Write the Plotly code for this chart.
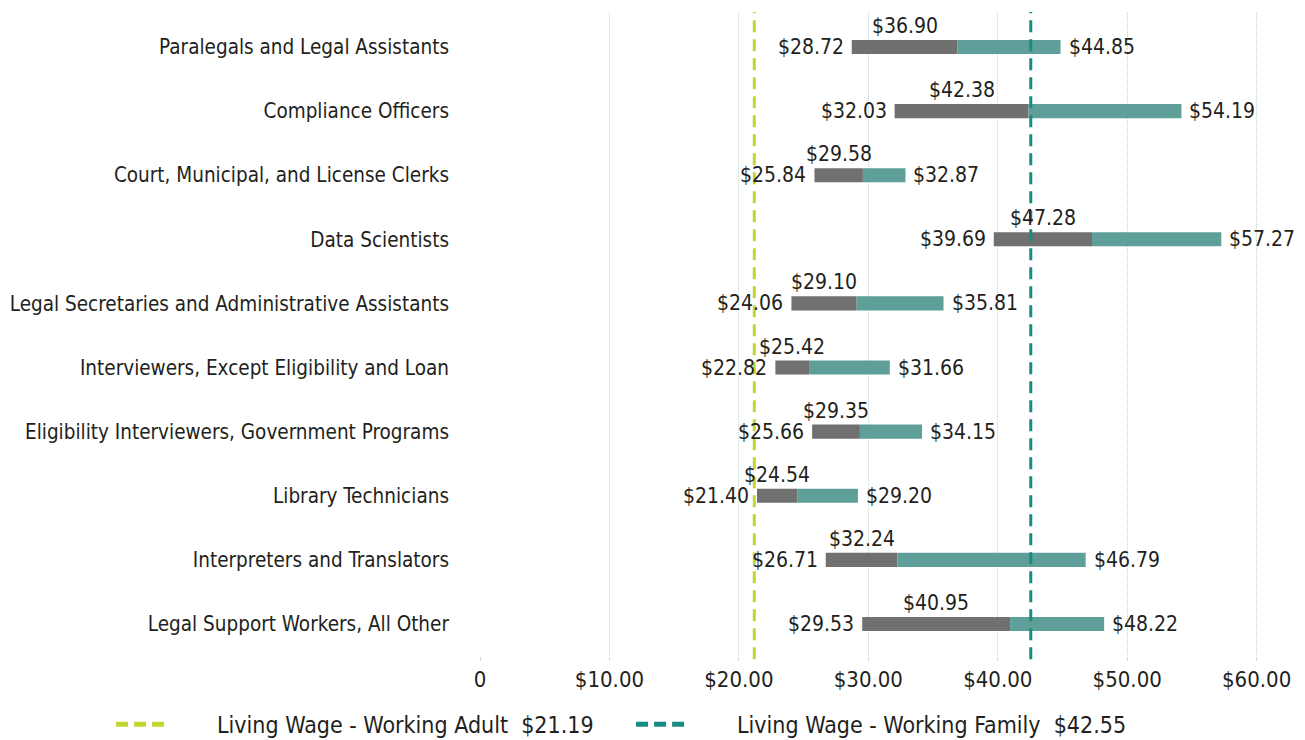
import plotly.graph_objects as go

categories = [
    "Paralegals and Legal Assistants",
    "Compliance Officers",
    "Court, Municipal, and License Clerks",
    "Data Scientists",
    "Legal Secretaries and Administrative Assistants",
    "Interviewers, Except Eligibility and Loan",
    "Eligibility Interviewers, Government Programs",
    "Library Technicians",
    "Interpreters and Translators",
    "Legal Support Workers, All Other",
]
low_wage = [28.72, 32.03, 25.84, 39.69, 24.06, 22.82, 25.66, 21.40, 26.71, 29.53]
median_wage = [36.90, 42.38, 29.58, 47.28, 29.10, 25.42, 29.35, 24.54, 32.24, 40.95]
high_wage = [44.85, 54.19, 32.87, 57.27, 35.81, 31.66, 34.15, 29.20, 46.79, 48.22]

living_wage_names = ["Living Wage - Working Adult", "Living Wage - Working Family"]
living_wage_values = [21.19, 42.55]
living_wage_colors = ["#c3d630", "#178c82"]

tick_vals = [0, 10, 20, 30, 40, 50, 60]
tick_text = ["0", "$10.00", "$20.00", "$30.00", "$40.00", "$50.00", "$60.00"]

FONT = "Liberation Sans Narrow, DejaVu Sans Condensed, Roboto, sans-serif"
GREY = "#6f706f"
TEAL = "#5f9f99"
TXT = "#231f20"

fig = go.Figure()
fig.add_trace(go.Bar(
    y=categories, x=[m - l for m, l in zip(median_wage, low_wage)], base=low_wage,
    orientation="h", marker=dict(color=GREY, line=dict(width=0)), width=0.22,
    showlegend=False, hoverinfo="skip"))
fig.add_trace(go.Bar(
    y=categories, x=[h - m for h, m in zip(high_wage, median_wage)], base=median_wage,
    orientation="h", marker=dict(color=TEAL, line=dict(width=0)), width=0.22,
    showlegend=False, hoverinfo="skip"))

annotations = []
for c, l, m, h in zip(categories, low_wage, median_wage, high_wage):
    annotations.append(dict(x=l, y=c, text=f"${l:.2f}", xanchor="right", yanchor="middle",
                            xshift=-6, showarrow=False, font=dict(family=FONT, size=21, color=TXT)))
    annotations.append(dict(x=h, y=c, text=f"${h:.2f}", xanchor="left", yanchor="middle",
                            xshift=6, showarrow=False, font=dict(family=FONT, size=21, color=TXT)))
    annotations.append(dict(x=(l + m) / 2, y=c, text=f"${m:.2f}", xanchor="center", yanchor="middle",
                            yshift=21, showarrow=False, font=dict(family=FONT, size=21, color=TXT)))

shapes = []
pad = "\u00a0" * 7
for name, val, col in zip(living_wage_names, living_wage_values, living_wage_colors):
    shapes.append(dict(type="line", xref="x", yref="paper", x0=val, x1=val, y0=-0.005, y1=1.0,
                       line=dict(color=col, width=3, dash="12px,7px"), layer="above"))
    fig.add_trace(go.Scatter(x=[None], y=[None], mode="lines", name=f"{pad}{name}\u00a0\u00a0${val:.2f}",
                             line=dict(color=col, width=5, dash="12px,6px")))

fig.update_layout(
    width=1305, height=740,
    margin=dict(l=472, r=24, t=4, b=92, autoexpand=False),
    paper_bgcolor="white", plot_bgcolor="white",
    barmode="overlay",
    font=dict(family=FONT, size=22, color=TXT),
    xaxis=dict(range=[0, 62.5], tickvals=tick_vals, ticktext=tick_text, automargin=False,
               showgrid=True, gridcolor="#bcd6d2", griddash="1px,1px", gridwidth=1,
               zeroline=False, showline=False, ticks="outside", ticklen=4, tickcolor="#c9dedb",
               tickfont=dict(family=FONT, size=22, color=TXT)),
    yaxis=dict(categoryorder="array", categoryarray=categories[::-1], showgrid=False,
               zeroline=False, showline=False, ticklabelstandoff=30, automargin=False,
               tickfont=dict(family=FONT, size=20.5, color=TXT)),
    shapes=shapes,
    annotations=annotations,
    legend=dict(orientation="h", xref="paper", yref="paper", x=-0.456, y=-0.106,
                xanchor="left", yanchor="middle", font=dict(family=FONT, size=23, color=TXT),
                itemwidth=50, tracegroupgap=0, entrywidth=455, entrywidthmode="pixels"),
)
fig.write_html("out.html")
